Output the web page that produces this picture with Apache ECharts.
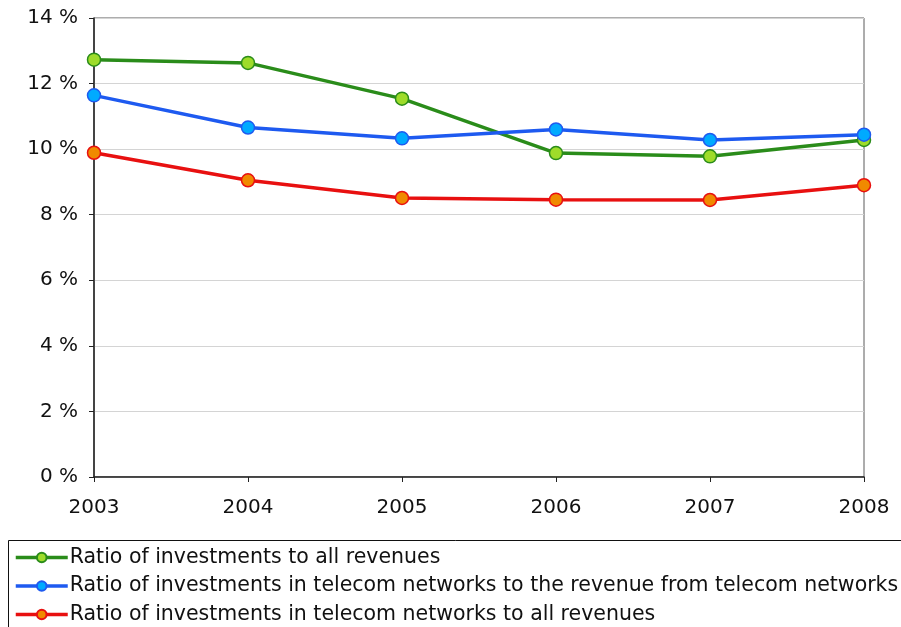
<!DOCTYPE html>
<html>
<head>
<meta charset="utf-8">
<script src="https://cdn.jsdelivr.net/npm/echarts@6/dist/echarts.min.js"></script>
<style>
  html, body { margin: 0; padding: 0; background: #fff; }
  #chart { width: 901px; height: 627px; }
</style>
</head>
<body>
<div id="chart"></div>
<script>
// Investment ratios, 2003–2008 (percent)
const years = ['2003', '2004', '2005', '2006', '2007', '2008'];
const allRevenues = [12.73, 12.63, 11.54, 9.88, 9.78, 10.28];
const telecomToTelecom = [11.64, 10.66, 10.33, 10.6, 10.28, 10.44];
const telecomToAll = [9.89, 9.05, 8.51, 8.46, 8.45, 8.9];

const seriesNames = [
  'Ratio of investments to all revenues',
  'Ratio of investments in telecom networks to the revenue from telecom networks',
  'Ratio of investments in telecom networks to all revenues'
];

const font = 'DejaVu Sans, Verdana, sans-serif';

function lineSeries(name, data, lineColor, fillColor, borderColor) {
  return {
    name: name,
    type: 'line',
    data: data,
    symbol: 'circle',
    symbolSize: 13,
    lineStyle: { color: lineColor, width: 3.5 },
    itemStyle: { color: fillColor, borderColor: borderColor, borderWidth: 1.5 },
    emphasis: { disabled: true },
    animation: false
  };
}

const chart = echarts.init(document.getElementById('chart'));
chart.setOption({
  backgroundColor: '#ffffff',
  animation: false,
  grid: {
    left: 94, right: 37, top: 18, bottom: 150,
    show: true, borderColor: '#5a5a5a', borderWidth: 1
  },
  xAxis: {
    type: 'category',
    data: years,
    boundaryGap: false,
    axisLine: { lineStyle: { color: '#222', width: 1.5 } },
    axisTick: { show: true, length: 5, lineStyle: { color: '#222' } },
    axisLabel: { color: '#111', fontFamily: font, fontSize: 20, margin: 21 },
    splitLine: { show: false }
  },
  yAxis: {
    type: 'value',
    min: 0, max: 14, interval: 2,
    axisLine: { show: true, lineStyle: { color: '#222', width: 1.5 } },
    axisTick: { show: true, length: 5, lineStyle: { color: '#222' } },
    axisLabel: { color: '#111', fontFamily: font, fontSize: 20, margin: 16,
      formatter: v => v + ' %' },
    splitLine: { lineStyle: { color: '#d4d4d4', width: 1 } }
  },
  legend: {
    orient: 'vertical',
    left: 9, top: 542,
    width: 890, height: 120,
    itemWidth: 52, itemHeight: 12, itemGap: 7.5,
    lineStyle: { width: 3.5 },
    textStyle: { color: '#111', fontFamily: font, fontSize: 20.5, padding: [0, 0, 0, -3] },
    data: seriesNames
  },
  graphic: [{
    type: 'rect',
    shape: { x: 8.5, y: 540.5, width: 900, height: 100 },
    style: { fill: 'none', stroke: '#111', lineWidth: 1 },
    silent: true, z: -1
  }],
  series: [
    lineSeries(seriesNames[0], allRevenues, '#2a8c1a', '#9edc2a', '#2a8c1a'),
    lineSeries(seriesNames[1], telecomToTelecom, '#1e5af0', '#00aaff', '#1e5af0'),
    lineSeries(seriesNames[2], telecomToAll, '#e81010', '#f08a00', '#e81010')
  ]
});
</script>
</body>
</html>
